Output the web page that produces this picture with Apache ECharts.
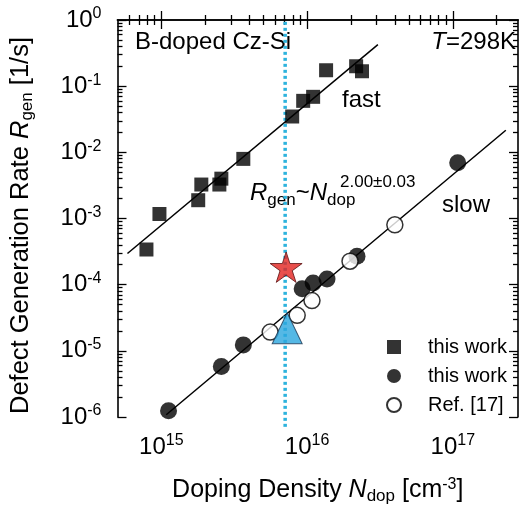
<!DOCTYPE html>
<html><head><meta charset="utf-8">
<script src="https://cdn.jsdelivr.net/npm/echarts@6/dist/echarts.min.js"></script>
<style>html,body{margin:0;padding:0;background:#fff}#c{width:521px;height:510px}</style>
</head><body><div id="c"></div>
<script>
// ---- data (doping density N_dop [cm^-3], generation rate R_gen [1/s]) ----
const fastN = [7.9e14, 9.7e14, 1.79e15, 1.88e15, 2.5e15, 2.58e15, 3.65e15, 7.9e15, 9.4e15, 1.1e16, 1.35e16, 2.17e16, 2.38e16];
const fastR = [3.4e-4, 1.17e-3, 1.89e-3, 3.26e-3, 3.26e-3, 4.0e-3, 7.96e-3, 0.0348, 0.060, 0.069, 0.174, 0.20, 0.168];
const slowN = [1.12e15, 2.58e15, 3.65e15, 9.25e15, 1.1e16, 1.37e16, 2.2e16, 1.08e17];
const slowR = [1.24e-6, 5.78e-6, 1.23e-5, 8.65e-5, 1.06e-4, 1.22e-4, 2.68e-4, 6.95e-3];
const refN = [5.58e15, 8.55e15, 1.08e16, 1.97e16, 4.0e16];
const refR = [1.92e-5, 3.44e-5, 5.74e-5, 2.26e-4, 8.03e-4];
const fastFitN = [5.85e14, 3.06e16];
const fastFitR = [2.96e-4, 0.425];
const slowFitN = [1.08e15, 2.31e17];
const slowFitR = [1.08e-6, 0.0216];
const starN = [7.18e15];
const starR = [1.84e-4];
const triN = [7.3e15];
const triR = [2.2e-5];
const markN = [7.07e15, 7.07e15];
const markR = [7.1e-7, 1];
const xTickExp = [15, 16, 17];
const yTickExp = [-6, -5, -4, -3, -2, -1, 0];
const xRange = [5e14, 2.8e17];
const yRange = [1e-6, 1];

const L = Math.log10;
const pts = (xs, ys) => xs.map((x, i) => [L(x), L(ys[i])]);
const xMin = L(xRange[0]), xMax = L(xRange[1]);
const yMin = L(yRange[0]), yMax = L(yRange[1]);
function minors(a, b) {
  const out = [];
  for (let d = Math.floor(a) - 1; d <= Math.ceil(b); d++)
    for (let m = 2; m <= 9; m++) { const v = d + L(m); if (v > a + 1e-6 && v < b - 1e-6) out.push(v); }
  return out;
}
const xMinor = minors(xMin, xMax), yMinor = minors(yMin, yMax);
const FF = '"Liberation Sans", Arial, sans-serif';
const supRich = { b: { fontSize: 24, fontFamily: FF, color: '#000' }, s: { fontSize: 16, fontFamily: FF, color: '#000', padding: [0, 0, 12, 0] } };
const fmt = v => '{b|10}{s|' + Math.round(v) + '}';

function xAx(pos, major, withLabel) {
  const a = {
    type: 'value', position: pos, min: xMin, max: xMax, gridIndex: 0,
    splitLine: { show: false },
    axisLine: { show: major, lineStyle: { color: '#000', width: 1.6 } },
    axisTick: { show: true, inside: true, length: major ? 9 : 5, customValues: major ? xTickExp : xMinor, lineStyle: { color: '#000', width: 1.3 } },
    axisLabel: { show: !!withLabel, customValues: xTickExp, formatter: fmt, rich: supRich, margin: 16 }
  };
  if (withLabel) {
    a.name = '{n|Doping Density }{i|N}{sub|dop}{n| [cm}{sup|-3}{n|]}';
    a.nameLocation = 'middle'; a.nameGap = 59;
    a.nameTextStyle = { rich: {
      n: { fontSize: 25, fontFamily: FF, color: '#000' },
      i: { fontSize: 25, fontFamily: FF, fontStyle: 'italic', color: '#000' },
      sub: { fontSize: 17, fontFamily: FF, color: '#000', padding: [12, 0, 0, 0] },
      sup: { fontSize: 16, fontFamily: FF, color: '#000', padding: [0, 0, 12, 0] } } };
  }
  return a;
}
function yAx(pos, major, withLabel) {
  const a = {
    type: 'value', position: pos, min: yMin, max: yMax, gridIndex: 0,
    splitLine: { show: false },
    axisLine: { show: major, lineStyle: { color: '#000', width: 1.6 } },
    axisTick: { show: true, inside: true, length: major ? 9 : 5, customValues: major ? yTickExp : yMinor, lineStyle: { color: '#000', width: 1.3 } },
    axisLabel: { show: !!withLabel, customValues: yTickExp, formatter: fmt, rich: supRich, margin: 16 }
  };
  if (withLabel) {
    a.name = '{n|Defect Generation Rate }{i|R}{sub|gen}{e| [1/s]}';
    a.nameLocation = 'middle'; a.nameGap = 82; a.nameRotate = 90;
    a.nameTextStyle = { rich: {
      n: { fontSize: 25.5, fontFamily: FF, color: '#000' },
      e: { fontSize: 25.5, fontFamily: FF, color: '#000', padding: [0, 14, 0, 0] },
      i: { fontSize: 25.5, fontFamily: FF, fontStyle: 'italic', color: '#000' },
      sub: { fontSize: 17, fontFamily: FF, color: '#000', padding: [12, 0, 0, 0] } } };
  }
  return a;
}

const starPath = 'path://M50,0 L61.2,34.5 L97.6,34.5 L68.2,55.9 L79.4,90.5 L50,69.1 L20.6,90.5 L31.8,55.9 L2.4,34.5 L38.8,34.5 Z';

const chart = echarts.init(document.getElementById('c'), null, { renderer: 'canvas' });
chart.setOption({
  animation: false,
  backgroundColor: '#fff',
  grid: { left: 117, right: 3, top: 20, bottom: 88, containLabel: false },
  xAxis: [xAx('bottom', true, true), xAx('bottom', false), xAx('top', true), xAx('top', false)],
  yAxis: [yAx('left', true, true), yAx('left', false), yAx('right', true), yAx('right', false)],
  legend: {
    orient: 'vertical', left: 386, top: 337, itemWidth: 14, itemHeight: 14, itemGap: 9, padding: 0,
    textStyle: { fontSize: 20, fontFamily: FF, color: '#000', padding: [0, 0, 0, 22] },
    data: ['this work', 'this work ', 'Ref. [17]']
  },
  graphic: [
    { type: 'text', x: 135, y: 42, style: { text: 'B-doped Cz-Si', fontSize: 24, fontFamily: FF, fill: '#000', verticalAlign: 'middle' } },
    { type: 'text', x: 516, y: 42, style: { text: '{i|T}{n|=298K}', align: 'right', verticalAlign: 'middle',
      rich: { i: { fontSize: 24, fontFamily: FF, fontStyle: 'italic', fill: '#000' }, n: { fontSize: 24, fontFamily: FF, fill: '#000' } } } },
    { type: 'text', x: 342, y: 100, style: { text: 'fast', fontSize: 24, fontFamily: FF, fill: '#000', verticalAlign: 'middle' } },
    { type: 'text', x: 442, y: 205, style: { text: 'slow', fontSize: 24, fontFamily: FF, fill: '#000', verticalAlign: 'middle' } },
    { type: 'text', x: 250, y: 193, style: { text: '{i|R}{s|gen}{n|~}{i|N}{s|dop}', verticalAlign: 'middle',
      rich: { i: { fontSize: 24, fontFamily: FF, fontStyle: 'italic', fill: '#000' }, n: { fontSize: 24, fontFamily: FF, fill: '#000' },
              s: { fontSize: 17, fontFamily: FF, fill: '#000', padding: [14, 0, 0, 0] } } } },
    { type: 'text', x: 340, y: 182, style: { text: '2.00±0.03', fontSize: 17, fontFamily: FF, fill: '#000', verticalAlign: 'middle' } }
  ],
  series: [
    { type: 'line', name: 'fit fast', data: pts(fastFitN, fastFitR), symbol: 'none', lineStyle: { color: '#000', width: 1.5 }, z: 2, silent: true },
    { type: 'line', name: 'fit slow', data: pts(slowFitN, slowFitR), symbol: 'none', lineStyle: { color: '#000', width: 1.5 }, z: 2, silent: true },
    { type: 'line', name: 'marker', data: pts(markN, markR), symbol: 'none', clip: false,
      lineStyle: { color: '#2db3dd', width: 3.5, type: [3, 3] }, z: 3, silent: true },
    { type: 'scatter', name: 'this work', data: pts(fastN, fastR), symbol: 'rect', symbolSize: 14, symbolKeepAspect: true,
      itemStyle: { color: '#000' }, z: 4 },
    { type: 'scatter', name: 'this work ', data: pts(slowN, slowR), symbol: 'circle', symbolSize: 17, symbolKeepAspect: true,
      itemStyle: { color: '#000' }, z: 4 },
    { type: 'scatter', name: 'Ref. [17]', data: pts(refN, refR), symbol: 'circle', symbolSize: 16, symbolKeepAspect: true,
      itemStyle: { color: '#fff', borderColor: '#000', borderWidth: 1.5 }, z: 5 },
    { type: 'scatter', name: 'star', data: pts(starN, starR), symbol: starPath, symbolSize: 32, symbolKeepAspect: true,
      itemStyle: { color: '#e3231f', borderColor: '#5a1010', borderWidth: 1 }, z: 6 },
    { type: 'scatter', name: 'tri', data: pts(triN, triR), symbol: 'triangle', symbolSize: [30, 31],
      itemStyle: { color: '#2aa6df', borderColor: '#1b3550', borderWidth: 1 }, z: 6 }
  ]
});
</script></body></html>
